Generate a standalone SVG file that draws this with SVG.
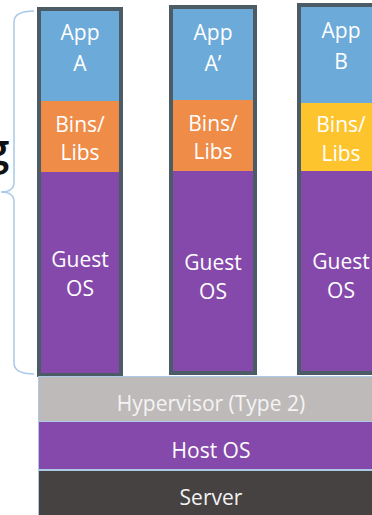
<svg xmlns="http://www.w3.org/2000/svg" width="372" height="515" viewBox="0 0 372 515">
<style>
  .t { font-family: "Open Sans", "Liberation Sans", sans-serif; font-size: 21px; fill: #ffffff; text-anchor: middle; }
  .b { font-family: "Open Sans", "Liberation Sans", sans-serif; font-size: 21px; text-anchor: middle; }
  .frame { fill: none; stroke: #4c5c66; stroke-width: 4; }
  .app { fill: #6caad9; }
  .bins { fill: #ee8c48; }
  .binsY { fill: #fdc42e; }
  .guest { fill: #8549ab; }
  .brace { fill: none; stroke: #a9c9e6; stroke-width: 1.5; }
</style>
<rect width="372" height="515" fill="#ffffff"/>

<g id="left-label">
  <text x="-15" y="165" style="font-family:'Open Sans','Liberation Sans',sans-serif;font-size:44px;font-weight:600;fill:#111111">g</text>
</g>

<g id="brace">
  <path class="brace" d="M34,11 Q14,11 14,22 L14,182 Q14,192 1,192 Q14,192 14,202 L14,363 Q14,374 34,374"/>
</g>

<g id="vm-a">
  <rect class="app" x="39" y="9" width="82" height="92"/>
  <rect class="bins" x="39" y="101" width="82" height="71"/>
  <rect class="guest" x="39" y="172" width="82" height="203"/>
  <rect class="frame" x="39" y="9" width="82" height="366"/>
  <text class="t" x="80" y="40">App</text>
  <text class="t" x="80" y="71">A</text>
  <text class="t" x="80" y="132">Bins/</text>
  <text class="t" x="80" y="160">Libs</text>
  <text class="t" x="80" y="267">Guest</text>
  <text class="t" x="80" y="296">OS</text>
</g>

<g id="vm-a2">
  <rect class="app" x="171" y="7" width="84" height="93"/>
  <rect class="bins" x="171" y="100" width="84" height="71"/>
  <rect class="guest" x="171" y="171" width="84" height="202"/>
  <rect class="frame" x="171" y="7" width="84" height="366"/>
  <text class="t" x="213" y="40">App</text>
  <text class="t" x="213" y="71">A’</text>
  <text class="t" x="213" y="131">Bins/</text>
  <text class="t" x="213" y="159">Libs</text>
  <text class="t" x="213" y="270">Guest</text>
  <text class="t" x="213" y="299">OS</text>
</g>

<g id="vm-b">
  <rect class="app" x="299" y="5" width="84" height="98"/>
  <rect class="binsY" x="299" y="103" width="84" height="68"/>
  <rect class="guest" x="299" y="171" width="84" height="202"/>
  <rect class="frame" x="299" y="5" width="84" height="368"/>
  <text class="t" x="341" y="38">App</text>
  <text class="t" x="341" y="69">B</text>
  <text class="t" x="341" y="132">Bins/</text>
  <text class="t" x="341" y="161">Libs</text>
  <text class="t" x="341" y="269">Guest</text>
  <text class="t" x="341" y="298">OS</text>
</g>

<g id="hypervisor">
  <rect x="38.5" y="376.5" width="346" height="45" fill="#bebab9" stroke="#a9c9e6" stroke-width="1"/>
  <text class="b" x="211" y="411" fill="#f4f4f4">Hypervisor (Type 2)</text>
</g>

<g id="host-os">
  <rect x="38.5" y="421.5" width="346" height="48" fill="#8549ab" stroke="#a9c9e6" stroke-width="1"/>
  <text class="b" x="211" y="458" fill="#ffffff">Host OS</text>
</g>

<g id="server">
  <rect x="38.5" y="470.5" width="346" height="46" fill="#464242" stroke="#a9c9e6" stroke-width="1"/>
  <text class="b" x="211" y="505" fill="#f2f2f2">Server</text>
</g>

<g id="connectors"></g>
</svg>
